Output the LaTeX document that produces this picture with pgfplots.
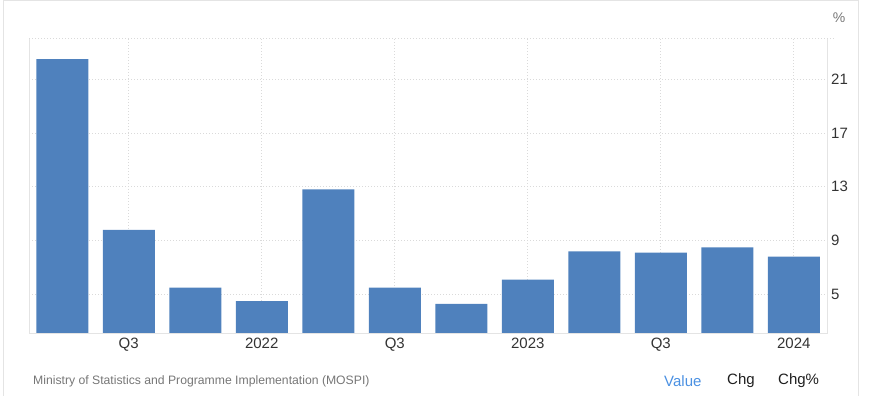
\documentclass[border=0pt]{standalone}
\usepackage{pgfplots}
\pgfplotsset{compat=1.18}
\usepackage{fontspec}
\setmainfont{Liberation Sans}
\definecolor{barblue}{RGB}{79,129,189}
\definecolor{gridc}{RGB}{218,218,218}
\definecolor{axc}{RGB}{228,228,228}
\definecolor{lbl}{RGB}{51,51,51}
\definecolor{src}{RGB}{118,118,118}
\definecolor{valblue}{RGB}{74,144,226}
\begin{document}
\begin{tikzpicture}
\useasboundingbox (0pt,0pt) rectangle (872pt,396pt);
\draw[axc, line width=1pt] (3pt,0pt) -- (3pt,395.5pt) -- (858pt,395.5pt) -- (858pt,0pt);
\begin{axis}[
  at={(29pt,62pt)}, anchor=south west,
  scale only axis, width=798pt, height=296pt,
  xmin=-0.5, xmax=11.5, ymin=2.05, ymax=24.07,
  ybar, bar width=52pt, bar shift=0pt,
  xtick={1,3,5,7,9,11},
  xticklabels={Q3,2022,Q3,2023,Q3,2024},
  ytick={5,9,13,17,21},
  yticklabel pos=right,
  major tick length=0pt,
  grid=major,
  grid style={gridc, line width=0.9pt, dash pattern=on 1pt off 2pt},
  axis line style={draw=none},
  /pgf/number format/assume math mode=true,
  tick label style={font=\fontsize{15pt}{18pt}\selectfont, text=lbl},
  xticklabel style={anchor=north, inner sep=0pt, yshift=-4pt},
  yticklabel style={anchor=west, inner sep=0pt, xshift=4pt},
  clip=false,
]
\addplot[fill=barblue, draw=none] coordinates {
  (0,22.5) (1,9.8) (2,5.5) (3,4.5) (4,12.8) (5,5.5)
  (6,4.3) (7,6.1) (8,8.2) (9,8.1) (10,8.5) (11,7.8)
};
\draw[axc, line width=1pt] (rel axis cs:0,1) -- (rel axis cs:0,0) -- (rel axis cs:1,0) -- (rel axis cs:1,1);
\draw[gridc, line width=0.9pt, dash pattern=on 1pt off 2pt] (rel axis cs:0,1) -- (rel axis cs:1.01,1);
\end{axis}
\node[anchor=center, text=src, font=\fontsize{14pt}{16pt}\selectfont] at (839pt,378pt) {\%};
\node[anchor=west, inner sep=0pt, text=src, font=\fontsize{12.2pt}{14pt}\selectfont] at (33pt,15pt) {Ministry of Statistics and Programme Implementation (MOSPI)};
\node[anchor=west, inner sep=0pt, text=valblue, font=\fontsize{15pt}{18pt}\selectfont] at (664pt,15pt) {Value};
\node[anchor=west, inner sep=0pt, text=black!88, font=\fontsize{15pt}{18pt}\selectfont] at (727pt,15pt) {Chg};
\node[anchor=west, inner sep=0pt, text=black!88, font=\fontsize{15pt}{18pt}\selectfont] at (778pt,15pt) {Chg\%};
\end{tikzpicture}
\end{document}
